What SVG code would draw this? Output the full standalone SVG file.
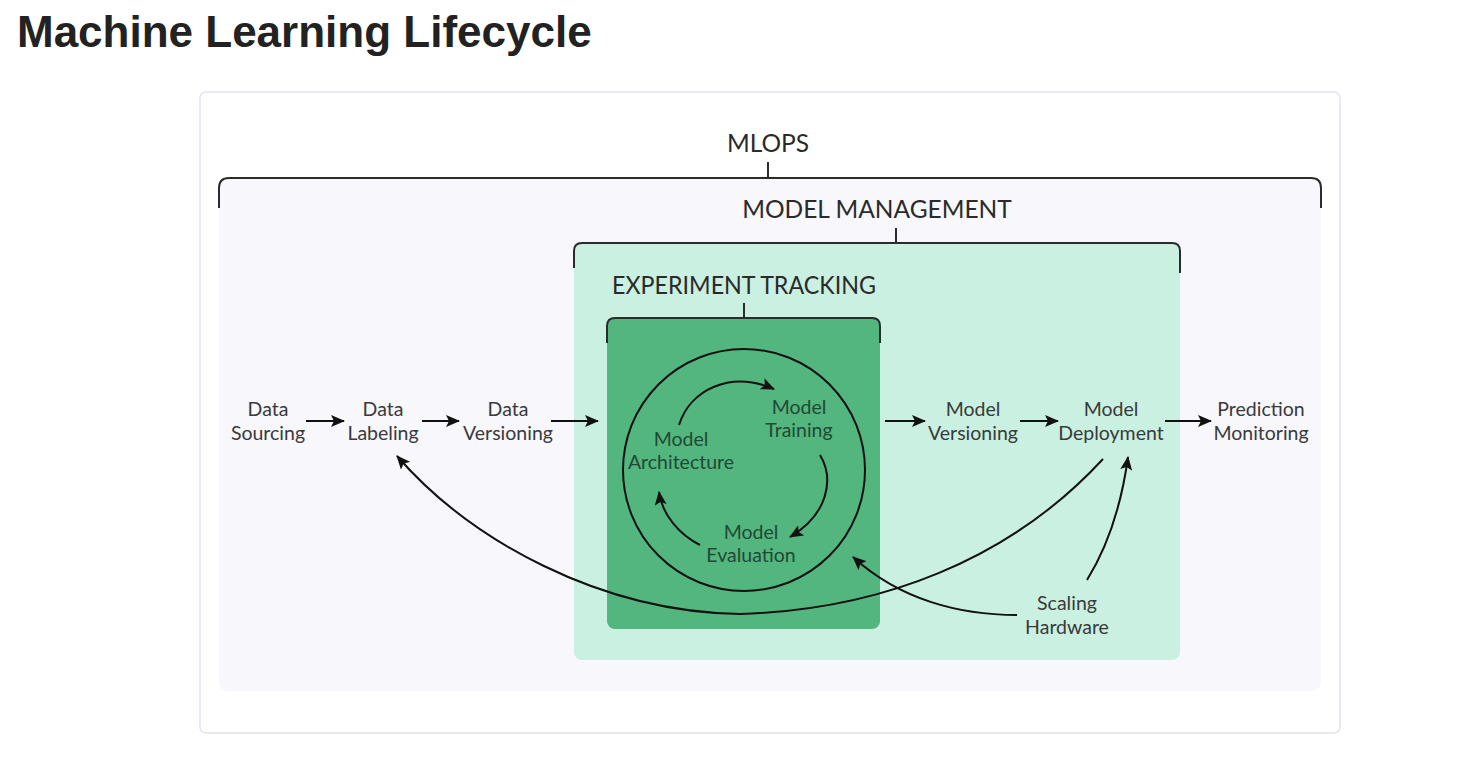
<svg xmlns="http://www.w3.org/2000/svg" width="1470" height="778" viewBox="0 0 1470 778">
<style>
.title{font-family:"Liberation Sans",Arial,sans-serif;font-weight:bold;font-size:44px;fill:#222}
.cap{font-family:Lato,"Open Sans",sans-serif;font-size:24.5px;fill:#2a2a2a;text-anchor:middle}
.lbl{font-family:Lato,"Open Sans",sans-serif;font-size:19.5px;fill:#3a3a3a;text-anchor:middle}
.in{font-family:Lato,"Open Sans",sans-serif;font-size:19.5px;fill:#1f4a34;text-anchor:middle}
.br{fill:none;stroke:#2b2b2b;stroke-width:2}
.ln{fill:none;stroke:#111;stroke-width:2}
.ar{fill:none;stroke:#111;stroke-width:2;marker-end:url(#ah)}
</style>
<defs>
<marker id="ah" viewBox="0 0 14 12" refX="13" refY="6" markerWidth="14" markerHeight="12" markerUnits="userSpaceOnUse" orient="auto">
<path d="M0,0 L14,6 L0,12 L3,6 Z" fill="#111"/>
</marker>
</defs>
<rect width="1470" height="778" fill="#fff"/>
<text class="title" x="17" y="47">Machine Learning Lifecycle</text>
<rect x="200" y="92" width="1140" height="641" rx="6" fill="#fff" stroke="#e3e1ee" stroke-width="1.5"/>
<g id="mlops">
<rect x="219" y="178" width="1102" height="513" rx="9" fill="#f7f7fc"/>
<path class="br" d="M219,208 V188 Q219,178 229,178 H1311 Q1321,178 1321,188 V208"/>
<path class="br" d="M768,162 V178"/>
<text class="cap" x="768" y="152">MLOPS</text>
</g>
<g id="model-management">
<rect x="574" y="243" width="606" height="417" rx="8" fill="#c9f0e0"/>
<path class="br" d="M574,268 V251 Q574,243 582,243 H1172 Q1180,243 1180,251 V273"/>
<path class="br" d="M896,228 V243"/>
<text class="cap" x="877" y="218">MODEL MANAGEMENT</text>
</g>
<g id="experiment-tracking">
<rect x="607" y="318" width="273" height="311" rx="8" fill="#53b67e"/>
<path class="br" d="M607,343 V326 Q607,318 615,318 H872 Q880,318 880,326 V343"/>
<path class="br" d="M744,303 V318"/>
<text class="cap" x="744" y="294" textLength="264" lengthAdjust="spacingAndGlyphs">EXPERIMENT TRACKING</text>
<circle cx="744" cy="470" r="121" class="ln"/>
</g>
<g id="data-sourcing"><text class="lbl" x="268" y="416">Data</text><text class="lbl" x="268" y="440">Sourcing</text></g>
<g id="data-labeling"><text class="lbl" x="383" y="416">Data</text><text class="lbl" x="383" y="440">Labeling</text></g>
<g id="data-versioning"><text class="lbl" x="508" y="416">Data</text><text class="lbl" x="508" y="440">Versioning</text></g>
<g id="model-architecture"><text class="in" x="681" y="446">Model</text><text class="in" x="681" y="469">Architecture</text></g>
<g id="model-training"><text class="in" x="799" y="414">Model</text><text class="in" x="799" y="437">Training</text></g>
<g id="model-evaluation"><text class="in" x="751" y="539">Model</text><text class="in" x="751" y="562">Evaluation</text></g>
<g id="model-versioning"><text class="lbl" x="973" y="416">Model</text><text class="lbl" x="973" y="440">Versioning</text></g>
<g id="model-deployment"><text class="lbl" x="1111" y="416">Model</text><text class="lbl" x="1111" y="440">Deployment</text></g>
<g id="prediction-monitoring"><text class="lbl" x="1261" y="416">Prediction</text><text class="lbl" x="1261" y="440">Monitoring</text></g>
<g id="scaling-hardware"><text class="lbl" x="1067" y="610">Scaling</text><text class="lbl" x="1067" y="634">Hardware</text></g>
<g id="connectors">
<path class="ar" d="M306,421 H344"/>
<path class="ar" d="M422,421 H459"/>
<path class="ar" d="M551,421 H598"/>
<path class="ar" d="M885,421 H925"/>
<path class="ar" d="M1020,421 H1058"/>
<path class="ar" d="M1165,421 H1211"/>
<path class="ar" d="M679,425 C690,390 730,370 774,389"/>
<path class="ar" d="M820,455 C835,480 827,515 790,537"/>
<path class="ar" d="M700,545 C680,535 662,515 659,492"/>
<path class="ar" d="M1103,459 C1010,560 880,610 740,614 C600,612 470,540 397,456"/>
<path class="ar" d="M1087,580 Q1118,530 1128,457"/>
<path class="ar" d="M1017,615 C960,615 900,600 853,557"/>
</g>
</svg>
